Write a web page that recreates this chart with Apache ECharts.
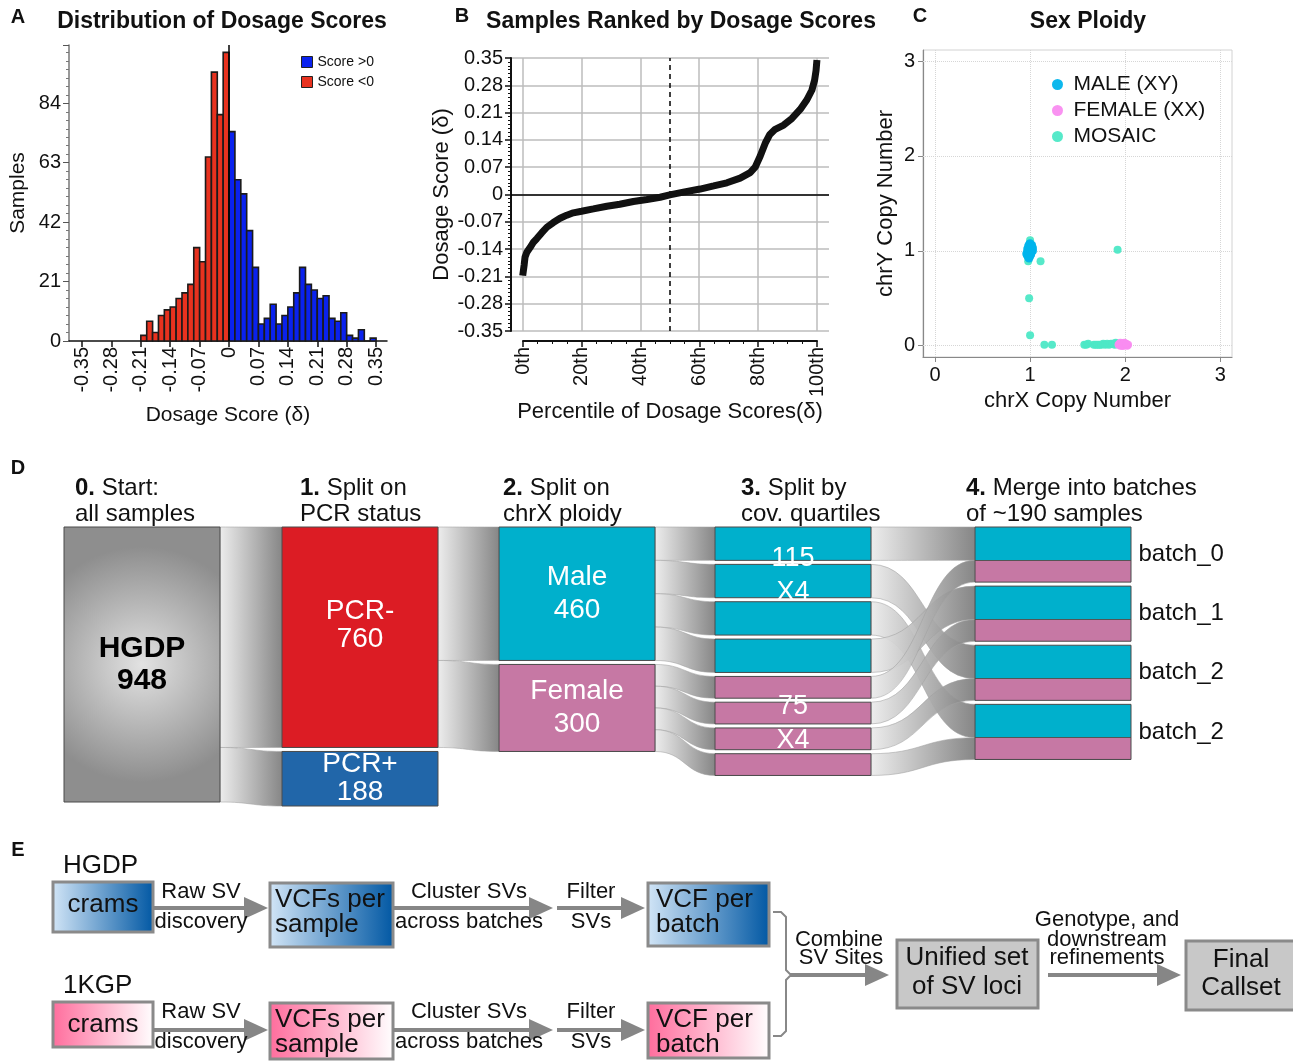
<!DOCTYPE html>
<html><head><meta charset="utf-8">
<script src="https://cdn.jsdelivr.net/npm/echarts@6/dist/echarts.min.js"></script>
<style>html,body{margin:0;padding:0;background:#fff}#chart{width:1293px;height:1063px}</style>
</head><body><div id="chart"></div>
<script>
const FONT = "'Liberation Sans', Arial, Helvetica, sans-serif";

// ---------- Panel A : histogram of dosage scores ----------
const histBinWidth = 0.014;
const negBinStarts = [-0.210,-0.196,-0.182,-0.168,-0.154,-0.140,-0.126,-0.112,-0.098,-0.084,-0.070,-0.056,-0.042,-0.028,-0.014];
const negCounts    = [2,7,3,9,11,12,15,17,20,33,28,65,95,80,102];
const posBinStarts = [0.000,0.014,0.028,0.042,0.056,0.070,0.084,0.098,0.112,0.126,0.140,0.154,0.168,0.182,0.196,0.210,0.224,0.238,0.252,0.266,0.280,0.294,0.308,0.322,0.336];
const posCounts    = [74,57,52,39,26,6,8,13,6,9,12,17,26,20,18,15,16,8,7,10,2,1,4,0,1];
const scoreTicks   = [-0.35,-0.28,-0.21,-0.14,-0.07,0,0.07,0.14,0.21,0.28,0.35];

// ---------- Panel B : samples ranked by dosage score ----------
const rankPercentile = [0,0.5,0.8,1.4,2.5,3.6,4.8,6.5,8.2,10.4,12.7,15,17.2,20,24,28.6,33,37.6,42.2,46.7,50,54.6,60.3,64.9,69.4,73.9,77.3,79,80.7,82.4,83.9,85.8,88.7,91.5,94.3,96.6,98.3,99.2,99.7,100];
const rankScore      = [-0.208,-0.18,-0.16,-0.148,-0.136,-0.123,-0.113,-0.098,-0.084,-0.072,-0.061,-0.053,-0.047,-0.043,-0.037,-0.030,-0.025,-0.018,-0.013,-0.007,-0.001,0.006,0.014,0.022,0.030,0.042,0.056,0.070,0.098,0.131,0.153,0.167,0.178,0.195,0.218,0.243,0.268,0.293,0.318,0.345];
const percentileTicks = [0,20,40,60,80,100];
const medianPercentile = 50;

// ---------- Panel C : sex ploidy ----------
const maleXY = [[0.97,0.95],[0.98,0.97],[0.99,0.99],[1.00,1.00],[1.01,1.02],[1.02,1.04],[0.98,1.01],[0.99,1.03],[1.00,1.05],[1.01,0.97],[1.02,0.99],[0.97,0.99],[0.98,0.93],[0.99,0.95],[1.00,0.97],[1.01,1.06],[1.00,1.08],[0.99,1.07],[1.02,1.01],[1.03,1.00],[1.03,1.03],[0.97,1.02],[0.98,1.05],[1.00,0.94],[1.01,0.96],[0.96,0.97],[1.02,1.06],[0.99,0.92],[1.01,1.04],[1.00,1.02]];
const femaleXX = [[1.93,0.01],[1.94,0.02],[1.95,0.00],[1.96,0.01],[1.97,0.02],[1.98,0.00],[1.99,0.01],[2.00,0.02],[2.01,0.01],[2.02,0.00],[2.03,0.01],[1.95,0.03],[1.97,0.00],[1.99,0.03],[2.01,0.02]];
const mosaicXY = [[1.00,1.11],[0.98,0.89],[1.11,0.89],[0.99,0.50],[1.00,0.11],[1.15,0.01],[1.23,0.01],[1.57,0.01],[1.59,0.01],[1.61,0.02],[1.67,0.01],[1.69,0.01],[1.71,0.01],[1.73,0.01],[1.75,0.01],[1.77,0.02],[1.79,0.01],[1.81,0.02],[1.83,0.01],[1.85,0.02],[1.87,0.02],[1.89,0.01],[1.90,0.03],[1.92,0.02],[1.92,1.01],[0.97,0.95]];
const copyTicks = [0,1,2,3];

// ---------- Panel D : batching sankey ----------
const sankeyNodeNames = ['HGDP','PCR-','PCR+','Male','Female','Mq1','Mq2','Mq3','Mq4','Fq1','Fq2','Fq3','Fq4','b0','b1','b2','b3'];
const sankeyLinkSource = ['HGDP','HGDP','PCR-','PCR-','Male','Male','Male','Male','Female','Female','Female','Female','Mq1','Mq2','Mq3','Mq4','Fq1','Fq2','Fq3','Fq4'];
const sankeyLinkTarget = ['PCR-','PCR+','Male','Female','Mq1','Mq2','Mq3','Mq4','Fq1','Fq2','Fq3','Fq4','b0','b2','b3','b1','b0','b1','b2','b3'];
const sankeyLinkValue  = [760,188,460,300,115,115,115,115,75,75,75,75,115,115,115,115,75,75,75,75];
const batchLabels = ['batch_0','batch_1','batch_2','batch_2'];
const quartileCount = 4;
const stepColumnLocalX = [0, 0.2043, 0.4077, 0.6101, 0.8538];

// ---------- helpers ----------
const fmtScore = v => { const r = Math.round(v * 100) / 100; return r === 0 ? '0' : String(r); };

function histRender(params, api) {
  const x0 = api.value(0), n = api.value(1);
  const a = api.coord([x0, 0]), b = api.coord([x0 + histBinWidth, n]);
  return { type: 'rect', shape: { x: a[0], y: b[1], width: b[0] - a[0], height: a[1] - b[1] },
           style: { fill: api.visual('color'), stroke: '#1b1b1b', lineWidth: 1.6 } };
}

const CYAN = '#00b0cc', PINK = '#c678a4';
const nodeIn = {}, nodeOut = {};
sankeyLinkSource.forEach((s, i) => {
  const t = sankeyLinkTarget[i], v = sankeyLinkValue[i];
  nodeOut[s] = (nodeOut[s] || 0) + v; nodeIn[t] = (nodeIn[t] || 0) + v;
});
const nodeTotal = n => Math.max(nodeIn[n] || 0, nodeOut[n] || 0);
const depth = {};
sankeyNodeNames.forEach(n => { if (!nodeIn[n]) depth[n] = 0; });
for (let k = 0; k < 6; k++) sankeyLinkSource.forEach((s, i) => { if (depth[s] != null) depth[sankeyLinkTarget[i]] = depth[s] + 1; });
function batchGradient(name) {
  let male = 0;
  sankeyLinkTarget.forEach((t, i) => { if (t === name && sankeyLinkSource[i][0] === 'M') male += sankeyLinkValue[i]; });
  const f = male / nodeTotal(name);
  return { type: 'linear', x: 0, y: 0, x2: 0, y2: 1, colorStops: [
    { offset: 0, color: CYAN }, { offset: f - 0.006, color: CYAN }, { offset: f - 0.006, color: '#555' },
    { offset: f + 0.006, color: '#555' }, { offset: f + 0.006, color: PINK }, { offset: 1, color: PINK }] };
}
const whiteLbl = (txt, size, lh, off) => ({ show: true, position: 'inside', formatter: txt, color: '#fff', fontSize: size, lineHeight: lh, fontFamily: FONT, offset: off || [0, 0] });
const sankeyData = sankeyNodeNames.map(name => {
  const item = { name: name, localX: stepColumnLocalX[depth[name]], itemStyle: { borderColor: '#4a4a4a', borderWidth: 1 }, label: { show: false } };
  if (name === 'HGDP') {
    item.itemStyle.color = { type: 'radial', x: 0.5, y: 0.5, r: 0.75, colorStops: [{ offset: 0, color: '#e2e2e2' }, { offset: 1, color: '#8e8e8e' }] };
    item.label = { show: true, position: 'inside', formatter: 'HGDP\n' + nodeTotal(name), color: '#000', fontWeight: 'bold', fontSize: 30, lineHeight: 32, fontFamily: FONT };
  } else if (name === 'PCR-') {
    item.itemStyle.color = '#dc1c24'; item.label = whiteLbl('PCR-\n' + nodeTotal(name), 28, 28, [0, -12]);
  } else if (name === 'PCR+') {
    item.itemStyle.color = '#2166a9'; item.label = whiteLbl('PCR+\n' + nodeTotal(name), 28, 28);
  } else if (name === 'Male') {
    item.itemStyle.color = CYAN; item.label = whiteLbl('Male\n' + nodeTotal(name), 28, 33);
  } else if (name === 'Female') {
    item.itemStyle.color = PINK; item.label = whiteLbl('Female\n' + nodeTotal(name), 28, 33);
  } else if (name[0] === 'M') {
    item.itemStyle.color = CYAN;
    if (name === 'Mq2') item.label = whiteLbl(nodeTotal(name) + '\nX' + quartileCount, 27, 34, [0, -5]);
  } else if (name[0] === 'F') {
    item.itemStyle.color = PINK;
    if (name === 'Fq2') item.label = whiteLbl(nodeTotal(name) + '\nX' + quartileCount, 27, 34, [0, 10]);
  } else {
    item.itemStyle.color = batchGradient(name);
    item.label = { show: true, position: 'right', distance: 7, formatter: batchLabels[+name.slice(1)], color: '#111', fontSize: 24, fontFamily: FONT };
  }
  return item;
});
const sankeyLinks = sankeyLinkSource.map((s, i) => ({ source: s, target: sankeyLinkTarget[i], value: sankeyLinkValue[i] }));

// ---------- graphic annotations ----------
const G = [];
function txt(x, y, text, size, opts) {
  opts = opts || {};
  G.push({ type: 'text', x: x, y: y, silent: true, style: Object.assign({ text: text, fontSize: size, fontFamily: FONT, fill: '#111',
    align: opts.align || 'center', verticalAlign: opts.va || 'middle', fontWeight: opts.bold ? 'bold' : 'normal', lineHeight: opts.lh || size * 1.1 }, opts.extra || {}) });
}
function grad(c0, c1) { return new echarts.graphic.LinearGradient(0, 0, 1, 0, [{ offset: 0, color: c0 }, { offset: 1, color: c1 }]); }
function box(x, y, w, h, fill) { G.push({ type: 'rect', silent: true, shape: { x: x, y: y, width: w, height: h }, style: { fill: fill, stroke: '#8a8a8a', lineWidth: 3 } }); }
function arrow(x1, x2, y) {
  G.push({ type: 'line', silent: true, shape: { x1: x1, y1: y, x2: x2 - 18, y2: y }, style: { stroke: '#868686', lineWidth: 4 } });
  G.push({ type: 'polygon', silent: true, shape: { points: [[x2 - 24, y - 11], [x2, y], [x2 - 24, y + 11]] }, style: { fill: '#868686' } });
}
// panel letters and titles
txt(18, 17, 'A', 20, { bold: true }); txt(462, 16, 'B', 20, { bold: true }); txt(920, 16, 'C', 20, { bold: true });
txt(18, 468, 'D', 20, { bold: true }); txt(18, 850, 'E', 20, { bold: true });
txt(222, 22, 'Distribution of Dosage Scores', 23, { bold: true });
txt(681, 22, 'Samples Ranked by Dosage Scores', 23, { bold: true });
txt(1088, 22, 'Sex Ploidy', 23, { bold: true });
// panel D column headers
const dHeaderNum = ['0.', '1.', '2.', '3.', '4.'];
const dHeaderLine1 = [' Start:', ' Split on', ' Split on', ' Split by', ' Merge into batches'];
const dHeaderLine2 = ['all samples', 'PCR status', 'chrX ploidy', 'cov. quartiles', 'of ~190 samples'];
const dHeaderX = [75, 300, 503, 741, 966];
dHeaderX.forEach((x, i) => {
  G.push({ type: 'text', x: x, y: 475, silent: true, style: {
    text: '{b|' + dHeaderNum[i] + '}{n|' + dHeaderLine1[i] + '}\n{n|' + dHeaderLine2[i] + '}',
    align: 'left', verticalAlign: 'top',
    rich: { b: { fontWeight: 'bold', fontSize: 24, fontFamily: FONT, fill: '#111', lineHeight: 26 },
            n: { fontSize: 24, fontFamily: FONT, fill: '#111', lineHeight: 26 } } } });
});
// panel E flow diagram
const blueG = () => grad('#d3e6f7', '#0057a3'), pinkG = () => grad('#ff6c9c', '#ffffff'), GRAY = '#c8c8c8';
[['HGDP', 0, blueG], ['1KGP', 120, pinkG]].forEach(([lab, dy, g]) => {
  txt(63, 866 + dy, lab, 26, { align: 'left' });
  box(53, 882 + dy, 100, dy ? 45 : 50, g());
  txt(103, 905 + dy, 'crams', 26);
  arrow(153, 268, 908 + dy + (dy ? 2 : 0));
  txt(201, 892 + dy, 'Raw SV', 22); txt(201, 922 + dy, 'discovery', 22);
  box(270, 883 + dy, 123, dy ? 56 : 64, g());
  txt(275, 900 + dy, 'VCFs per', 26, { align: 'left' }); txt(275, 925 + dy, 'sample', 26, { align: 'left' });
  arrow(393, 553, 908 + dy + (dy ? 2 : 0));
  txt(469, 892 + dy, 'Cluster SVs', 22); txt(469, 922 + dy, 'across batches', 22);
  arrow(557, 645, 908 + dy + (dy ? 2 : 0));
  txt(591, 892 + dy, 'Filter', 22); txt(591, 922 + dy, 'SVs', 22);
  box(648, 883 + dy, 121, dy ? 55 : 63, g());
  txt(656, 900 + dy, 'VCF per', 26, { align: 'left' }); txt(656, 925 + dy, 'batch', 26, { align: 'left' });
});
G.push({ type: 'polyline', silent: true, shape: { points: [[773, 912], [781, 912], [786, 917], [786, 970], [791, 975], [786, 980], [786, 1031], [781, 1036], [773, 1036]] }, style: { stroke: '#888', lineWidth: 2, fill: null } });
arrow(790, 889, 975);
txt(839, 940, 'Combine', 22); txt(841, 958, 'SV Sites', 22);
box(897, 940, 141, 68, GRAY);
txt(967, 958, 'Unified set', 26); txt(967, 987, 'of SV loci', 26);
arrow(1048, 1181, 975);
txt(1107, 920, 'Genotype, and', 22); txt(1107, 940, 'downstream', 22); txt(1107, 958, 'refinements', 22);
box(1186, 941, 112, 69, GRAY);
txt(1241, 960, 'Final', 26); txt(1241, 988, 'Callset', 26);

// ---------- option ----------
const axisFont = { fontFamily: FONT, color: '#111' };
const option = {
  animation: false,
  textStyle: { fontFamily: FONT },
  grid: [
    { left: 69, top: 45, width: 318, height: 296 },            // A
    { left: 511, top: 58, width: 318, height: 273 },           // B plot
    { left: 523, top: 300, width: 294, height: 41 },           // B x axis
    { left: 923, top: 50, width: 309, height: 307, show: true, borderColor: '#d2d2d2', borderWidth: 1 } // C
  ],
  xAxis: [
    { gridIndex: 0, type: 'value', min: -0.381, max: 0.376,
      axisLine: { show: true, onZero: false, lineStyle: { color: '#111', width: 1.5 } },
      axisTick: { show: true, customValues: scoreTicks, length: 6, lineStyle: { color: '#111', width: 1.5 } },
      axisLabel: Object.assign({ customValues: scoreTicks, rotate: 90, fontSize: 20, margin: 6, formatter: fmtScore }, axisFont),
      splitLine: { show: false },
      name: 'Dosage Score (δ)', nameLocation: 'middle', nameGap: 64, nameTextStyle: Object.assign({ fontSize: 21 }, axisFont) },
    { gridIndex: 1, type: 'value', min: -3.98, max: 104.1, show: false, splitLine: { show: false } },
    { gridIndex: 2, type: 'value', min: 0, max: 100, interval: 20,
      axisLine: { show: true, onZero: false, lineStyle: { color: '#111', width: 2 } },
      axisTick: { show: true, length: 6, lineStyle: { color: '#111', width: 1.5 } },
      minorTick: { show: true, splitNumber: 4, length: 3, lineStyle: { color: '#111' } },
      axisLabel: Object.assign({ rotate: 90, fontSize: 20, margin: 6, formatter: v => v + 'th' }, axisFont),
      splitLine: { show: false },
      name: 'Percentile of Dosage Scores(δ)', nameLocation: 'middle', nameGap: 60, nameTextStyle: Object.assign({ fontSize: 22 }, axisFont) },
    { gridIndex: 3, type: 'value', min: -0.126, max: 3.123,
      axisLine: { show: true, onZero: false, lineStyle: { color: '#888', width: 1.2 } },
      axisTick: { show: true, customValues: copyTicks, length: 5, lineStyle: { color: '#888' } },
      axisLabel: Object.assign({ customValues: copyTicks, fontSize: 20, margin: 8 }, axisFont),
      splitLine: { show: false },
      name: 'chrX Copy Number', nameLocation: 'middle', nameGap: 33, nameTextStyle: Object.assign({ fontSize: 22 }, axisFont) }
  ],
  yAxis: [
    { gridIndex: 0, type: 'value', min: 0, max: 104.6, interval: 21,
      axisLine: { show: true, onZero: false, lineStyle: { color: '#777', width: 1.5 } },
      axisTick: { show: true, length: 6, lineStyle: { color: '#555' } },
      minorTick: { show: true, splitNumber: 7, length: 3, lineStyle: { color: '#777' } },
      axisLabel: Object.assign({ fontSize: 20, margin: 8, showMaxLabel: false }, axisFont),
      splitLine: { show: false },
      name: 'Samples', nameLocation: 'middle', nameGap: 40, nameTextStyle: Object.assign({ fontSize: 21 }, axisFont) },
    { gridIndex: 1, type: 'value', min: -0.35, max: 0.35, interval: 0.07,
      axisLine: { show: true, onZero: false, lineStyle: { color: '#111', width: 2 } },
      axisTick: { show: true, length: 6, lineStyle: { color: '#111', width: 1.5 } },
      minorTick: { show: true, splitNumber: 7, length: 3, lineStyle: { color: '#111' } },
      axisLabel: Object.assign({ fontSize: 20, margin: 8, formatter: fmtScore }, axisFont),
      splitLine: { show: true, lineStyle: { color: '#bdbdbd', width: 1.5 } },
      name: 'Dosage Score (δ)', nameLocation: 'middle', nameGap: 58, nameTextStyle: Object.assign({ fontSize: 22 }, axisFont) },
    { gridIndex: 2, type: 'value', min: 0, max: 1, show: false },
    { gridIndex: 3, type: 'value', min: -0.119, max: 3.116,
      axisLine: { show: true, onZero: false, lineStyle: { color: '#888', width: 1.2 } },
      axisTick: { show: true, customValues: copyTicks, length: 5, lineStyle: { color: '#888' } },
      axisLabel: Object.assign({ customValues: copyTicks, fontSize: 20, margin: 8 }, axisFont),
      splitLine: { show: false },
      name: 'chrY Copy Number', nameLocation: 'middle', nameGap: 26, nameTextStyle: Object.assign({ fontSize: 22 }, axisFont) }
  ],
  legend: [
    { data: ['Score >0', 'Score <0'], left: 301, top: 55, orient: 'vertical', icon: 'rect', itemWidth: 11, itemHeight: 11, itemGap: 6, padding: 0,
      selectedMode: false, itemStyle: { borderColor: '#222', borderWidth: 1 }, textStyle: { fontSize: 14, color: '#111', fontFamily: FONT } },
    { data: ['MALE (XY)', 'FEMALE (XX)', 'MOSAIC'], left: 1052, top: 74, orient: 'vertical', icon: 'circle', itemWidth: 22, itemHeight: 11, itemGap: 5, padding: 0,
      selectedMode: false, textStyle: { fontSize: 21, color: '#111', fontFamily: FONT } }
  ],
  series: [
    { name: 'Score <0', type: 'custom', xAxisIndex: 0, yAxisIndex: 0, renderItem: histRender, itemStyle: { color: '#e8321f' },
      encode: { x: 0, y: 1 }, data: negBinStarts.map((s, i) => [s, negCounts[i]]), z: 3,
      markLine: { silent: true, symbol: 'none', label: { show: false }, lineStyle: { color: '#000', width: 1.5, type: 'solid' }, data: [{ xAxis: 0 }] } },
    { name: 'Score >0', type: 'custom', xAxisIndex: 0, yAxisIndex: 0, renderItem: histRender, itemStyle: { color: '#0a22ee' },
      encode: { x: 0, y: 1 }, data: posBinStarts.map((s, i) => [s, posCounts[i]]), z: 3 },
    { name: 'ranked', type: 'line', xAxisIndex: 1, yAxisIndex: 1, showSymbol: false, symbol: 'none', z: 5,
      lineStyle: { color: '#111', width: 7 }, data: rankPercentile.map((p, i) => [p, rankScore[i]]),
      markLine: { silent: true, symbol: 'none', z: 1, label: { show: false }, data:
        percentileTicks.map(v => ({ xAxis: v, lineStyle: { color: '#bdbdbd', width: 1.5, type: 'solid' } }))
        .concat([{ xAxis: medianPercentile, lineStyle: { color: '#000', width: 1.5, type: [5, 4] } },
                 { yAxis: 0, lineStyle: { color: '#000', width: 1.5, type: 'solid' } }]) } },
    { name: 'MOSAIC', type: 'scatter', xAxisIndex: 3, yAxisIndex: 3, symbolSize: 8, itemStyle: { color: '#4de8c6', opacity: 0.95 }, data: mosaicXY, z: 3,
      markLine: { silent: true, symbol: 'none', z: 1, label: { show: false }, lineStyle: { color: '#d6d6d6', width: 1, type: 'dotted' },
        data: copyTicks.map(v => ({ xAxis: v })).concat(copyTicks.map(v => ({ yAxis: v }))) } },
    { name: 'FEMALE (XX)', type: 'scatter', xAxisIndex: 3, yAxisIndex: 3, symbolSize: 8, itemStyle: { color: '#f98cf0', opacity: 0.95 }, data: femaleXX, z: 4 },
    { name: 'MALE (XY)', type: 'scatter', xAxisIndex: 3, yAxisIndex: 3, symbolSize: 8, itemStyle: { color: '#00b4ec', opacity: 0.95 }, data: maleXY, z: 5 },
    { name: 'batching', type: 'sankey', left: 64, right: 162, top: 527, bottom: 257, nodeWidth: 156, nodeGap: 4,
      layoutIterations: 0, nodeAlign: 'left', draggable: false, emphasis: { disabled: true },
      label: { show: false },
      lineStyle: { color: { type: 'linear', x: 0, y: 0, x2: 1, y2: 0, colorStops: [{ offset: 0, color: '#ececec' }, { offset: 1, color: '#7c7c7c' }] },
                   opacity: 0.92, curveness: 0.5, borderColor: '#a0a0a0', borderWidth: 0.6 },
      data: sankeyData, links: sankeyLinks }
  ],
  graphic: { elements: G }
};
const chart = echarts.init(document.getElementById('chart'), null, { renderer: 'canvas' });
chart.setOption(option);
</script></body></html>
